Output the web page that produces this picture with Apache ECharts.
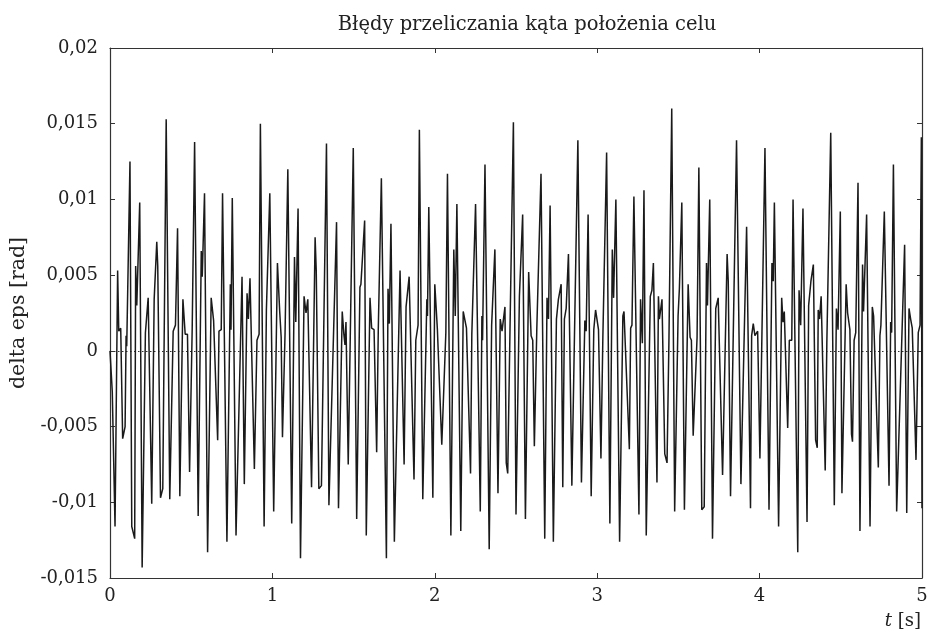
<!DOCTYPE html>
<html>
<head>
<meta charset="utf-8">
<script src="https://cdn.jsdelivr.net/npm/echarts@6/dist/echarts.min.js"></script>
<style>
  html, body { margin: 0; padding: 0; background: #ffffff; }
  #chart { width: 934px; height: 640px; }
</style>
</head>
<body>
<div id="chart"></div>
<script>
// Texts
const titleText = 'Błędy przeliczania kąta położenia celu';
const yAxisName = 'delta eps [rad]';

// Axis ranges / ticks
const xTicks = [0, 1, 2, 3, 4, 5];
const yTicks = [-0.015, -0.01, -0.005, 0, 0.005, 0.01, 0.015, 0.02];

// Sample times [s]
const time = [
  0, 0.014, 0.023, 0.031, 0.047, 0.054, 0.066, 0.078, 0.093, 0.099,
  0.103, 0.123, 0.134, 0.152, 0.158, 0.165, 0.183, 0.198, 0.218, 0.235,
  0.245, 0.257, 0.272, 0.280, 0.288, 0.294, 0.311, 0.325, 0.346, 0.368,
  0.389, 0.403, 0.416, 0.430, 0.449, 0.463, 0.477, 0.490, 0.506, 0.521,
  0.543, 0.562, 0.568, 0.582, 0.601,
  0.623, 0.638, 0.663, 0.671, 0.685, 0.693, 0.720, 0.741, 0.745, 0.753,
  0.776, 0.813, 0.827, 0.844, 0.852, 0.862, 0.889, 0.905, 0.918, 0.926,
  0.949, 0.963, 0.973, 0.984, 1.008, 1.031, 1.045, 1.054, 1.062, 1.070,
  1.078, 1.095, 1.119, 1.136, 1.144, 1.158, 1.173, 1.195,
  1.207, 1.218, 1.241, 1.263, 1.270, 1.286, 1.302, 1.333, 1.348, 1.395,
  1.407, 1.430, 1.440, 1.447, 1.453, 1.467, 1.498, 1.519, 1.539, 1.545,
  1.568, 1.578, 1.601, 1.611, 1.626, 1.642, 1.652, 1.671, 1.702, 1.712,
  1.720, 1.730, 1.751, 1.786, 1.811, 1.823, 1.842,
  1.872, 1.883, 1.897, 1.905, 1.926, 1.951, 1.955, 1.963, 1.988, 2.000,
  2.016, 2.043, 2.068, 2.078, 2.099, 2.117, 2.126, 2.136, 2.160, 2.175,
  2.195, 2.220, 2.228, 2.251, 2.280, 2.290, 2.294, 2.309, 2.335, 2.350,
  2.370, 2.389, 2.403, 2.414, 2.432, 2.440, 2.449,
  2.463, 2.484, 2.500, 2.521, 2.527, 2.541, 2.558, 2.578, 2.593, 2.603,
  2.613, 2.628, 2.654, 2.677, 2.691, 2.700, 2.710, 2.730, 2.749, 2.761,
  2.778, 2.788, 2.798, 2.809, 2.823, 2.844, 2.881, 2.903, 2.924, 2.932,
  2.944, 2.963, 2.979, 2.990, 3.008, 3.023, 3.035, 3.058, 3.078,
  3.093, 3.101, 3.115, 3.138, 3.158, 3.165, 3.198, 3.206, 3.214, 3.226,
  3.257, 3.267, 3.278, 3.288, 3.302, 3.327, 3.337, 3.346, 3.368, 3.377,
  3.383, 3.399, 3.416, 3.430, 3.442, 3.459, 3.477, 3.498, 3.506, 3.521,
  3.537, 3.560, 3.572, 3.580, 3.591, 3.615, 3.626, 3.644, 3.659, 3.673,
  3.679, 3.693,
  3.710, 3.730, 3.745, 3.772, 3.800, 3.807, 3.821, 3.858, 3.885, 3.920,
  3.944, 3.951, 3.961, 3.971, 3.988, 4.002, 4.033, 4.058, 4.076, 4.084,
  4.091, 4.117, 4.136, 4.144, 4.152, 4.173, 4.183, 4.198, 4.206, 4.235,
  4.243, 4.253, 4.267, 4.292,
  4.302, 4.316, 4.331, 4.345, 4.355, 4.361, 4.369, 4.379, 4.404, 4.414,
  4.424, 4.438, 4.460, 4.473, 4.483, 4.497, 4.507, 4.533, 4.542, 4.556,
  4.566, 4.572, 4.582, 4.592, 4.606, 4.618, 4.634, 4.640, 4.659, 4.680,
  4.694, 4.702, 4.713, 4.731, 4.741, 4.747, 4.768, 4.797, 4.807, 4.813,
  4.824, 4.844, 4.893, 4.906, 4.920, 4.930, 4.940, 4.963, 4.977, 4.988,
  4.996, 5.000
];

// Angle conversion error [rad]
const deltaEps = [
  0, -0.0027, -0.0028, -0.0116, 0.0053, 0.0013, 0.0015, -0.0058, -0.0050, 0.0010,
  0.0003, 0.0125, -0.0116, -0.0124, 0.0056, 0.0030, 0.0098, -0.0143, 0.0012, 0.0035,
  0.0036, -0.0101, 0.0034, 0.0035, 0.0072, 0.0056, -0.0097, -0.0091, 0.0153, -0.0098,
  0.0013, 0.0017, 0.0081, -0.0096, 0.0034, 0.0011, 0.0011, -0.0080, 0.0014, 0.0138,
  -0.0109, 0.0066, 0.0049, 0.0104, -0.0133,
  0.0035, 0.0020, -0.0059, 0.0013, 0.0014, 0.0104, -0.0126, 0.0044, 0.0014, 0.0101,
  -0.0122, 0.0049, -0.0088, 0.0038, 0.0021, 0.0048, -0.0078, 0.0007, 0.0011, 0.0150,
  -0.0116, 0.0027, 0.0028, 0.0104, -0.0106, 0.0058, 0.0026, 0.0009, -0.0057, -0.0057,
  0.0012, 0.0120, -0.0114, 0.0062, 0.0019, 0.0094, -0.0137, 0.0036,
  0.0025, 0.0034, -0.0090, 0.0075, 0.0053, -0.0091, -0.0089, 0.0137, -0.0102, 0.0085,
  -0.0104, 0.0026, 0.0011, 0.0004, 0.0019, -0.0075, 0.0134, -0.0111, 0.0042, 0.0044,
  0.0086, -0.0122, 0.0035, 0.0015, 0.0014, -0.0067, 0.0014, 0.0114, -0.0137, 0.0041,
  0.0018, 0.0084, -0.0126, 0.0053, -0.0075, 0.0029, 0.0049,
  -0.0085, 0.0007, 0.0017, 0.0146, -0.0098, 0.0034, 0.0023, 0.0095, -0.0097, 0.0044,
  0.0014, -0.0062, 0.0012, 0.0117, -0.0122, 0.0067, 0.0023, 0.0097, -0.0119, 0.0026,
  0.0015, -0.0081, 0.0011, 0.0097, -0.0106, 0.0023, 0.0007, 0.0123, -0.0131, 0.0017,
  0.0067, -0.0094, 0.0021, 0.0013, 0.0029, -0.0074, -0.0081,
  0.0014, 0.0151, -0.0108, 0.0036, 0.0037, 0.0090, -0.0111, 0.0052, 0.0010, 0.0007,
  -0.0063, 0.0014, 0.0117, -0.0124, 0.0035, 0.0021, 0.0096, -0.0126, 0.0021, 0.0034,
  0.0044, -0.0090, 0.0021, 0.0028, 0.0064, -0.0089, 0.0139, -0.0087, 0.0020, 0.0013,
  0.0090, -0.0096, 0.0014, 0.0027, 0.0014, -0.0071, 0.0010, 0.0131, -0.0114,
  0.0067, 0.0035, 0.0100, -0.0126, 0.0023, 0.0026, -0.0065, 0.0015, 0.0017, 0.0102,
  -0.0108, 0.0034, 0.0005, 0.0106, -0.0122, 0.0036, 0.0040, 0.0058, -0.0087, 0.0036,
  0.0021, 0.0034, -0.0068, -0.0074, 0.0009, 0.0160, -0.0106, 0.0023, 0.0041, 0.0098,
  -0.0105, 0.0044, 0.0009, 0.0007, -0.0056, 0.0009, 0.0121, -0.0105, -0.0103, 0.0058,
  0.0030, 0.0100,
  -0.0124, 0.0028, 0.0035, -0.0082, 0.0064, 0.0046, -0.0096, 0.0139, -0.0088, 0.0082,
  -0.0104, 0.0010, 0.0018, 0.0010, 0.0013, -0.0071, 0.0134, -0.0105, 0.0058, 0.0046,
  0.0098, -0.0116, 0.0035, 0.0019, 0.0026, -0.0051, 0.0007, 0.0007, 0.0100, -0.0133,
  0.0040, 0.0017, 0.0094, -0.0113,
  0.0030, 0.0046, 0.0057, -0.0059, -0.0064, 0.0027, 0.0021, 0.0036, -0.0079, 0.0005,
  0.0005, 0.0144, -0.0102, 0.0028, 0.0014, 0.0092, -0.0094, 0.0044, 0.0025, 0.0014,
  -0.0055, -0.0060, 0.0007, 0.0012, 0.0111, -0.0119, 0.0057, 0.0026, 0.0090, -0.0116,
  0.0029, 0.0023, 0.0024, -0.0077, 0.0010, 0.0017, 0.0092, -0.0089, 0.0019, 0.0012,
  0.0123, -0.0106, 0.0070, -0.0107, 0.0028, 0.0021, 0.0015, -0.0072, 0.0012, 0.0017,
  0.0141, -0.0104
];

const FONT = '"DejaVu Serif", "Liberation Serif", serif';
const INK = '#222222';

const fmtComma = v => String(Number(v.toFixed(3))).replace('.', ',');

const chart = echarts.init(document.getElementById('chart'), null, { renderer: 'canvas' });

// Frame lines stay on the grid edges (never jump to the zero position)
const frameLine = { show: true, onZero: false, lineStyle: { color: '#333333', width: 1.2 } };
const innerTick = { show: true, inside: true, length: 5, lineStyle: { color: '#333333', width: 1 } };

chart.setOption({
  animation: false,
  backgroundColor: '#ffffff',
  title: {
    text: titleText,
    left: 522,
    textAlign: 'center',
    top: 10,
    textStyle: { fontFamily: FONT, fontSize: 19.5, fontWeight: 'normal', color: INK }
  },
  grid: { left: 110, right: 12, top: 48, bottom: 62 },
  xAxis: [
    {
      type: 'value', min: xTicks[0], max: xTicks[xTicks.length - 1], interval: 1,
      axisLine: frameLine, axisTick: innerTick, splitLine: { show: false },
      axisLabel: { fontFamily: FONT, fontSize: 18, color: INK, margin: 9 }
    },
    {
      type: 'value', position: 'top', min: xTicks[0], max: xTicks[xTicks.length - 1], interval: 1,
      axisLine: frameLine, axisTick: innerTick, splitLine: { show: false },
      axisLabel: { show: false }
    }
  ],
  yAxis: [
    {
      type: 'value', min: yTicks[0], max: yTicks[yTicks.length - 1], interval: 0.005,
      name: yAxisName, nameLocation: 'middle', nameGap: 80, nameRotate: 90,
      nameTextStyle: { fontFamily: FONT, fontSize: 20.5, color: INK },
      axisLine: frameLine, axisTick: innerTick, splitLine: { show: false },
      axisLabel: { fontFamily: FONT, fontSize: 18, color: INK, margin: 12, formatter: fmtComma }
    },
    {
      type: 'value', position: 'right', min: yTicks[0], max: yTicks[yTicks.length - 1], interval: 0.005,
      axisLine: frameLine, axisTick: innerTick, splitLine: { show: false },
      axisLabel: { show: false }
    }
  ],
  graphic: [
    {
      type: 'text',
      right: 13,
      top: 612,
      style: {
        text: '{i|t} [s]',
        font: '18px "DejaVu Serif", serif',
        fill: INK,
        rich: {
          i: { fontStyle: 'italic', fontFamily: FONT, fontSize: 18, fill: INK }
        }
      }
    }
  ],
  series: [
    {
      type: 'line',
      xAxisIndex: 0,
      yAxisIndex: 0,
      data: time.map((t, i) => [t, deltaEps[i]]),
      showSymbol: false,
      symbol: 'none',
      lineStyle: { color: '#1a1a1a', width: 1.5 },
      z: 3,
      markLine: {
        silent: true,
        symbol: 'none',
        label: { show: false },
        lineStyle: { color: '#333333', width: 1, type: [1.5, 2.5] },
        data: [{ yAxis: 0 }],
        z: 2
      }
    }
  ]
});
</script>
</body>
</html>
